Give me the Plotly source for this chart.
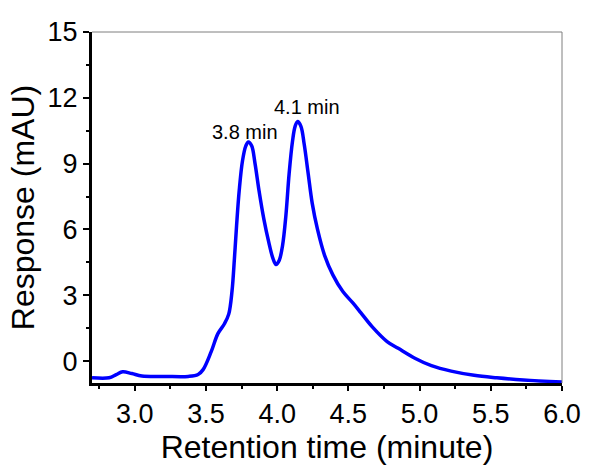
import plotly.graph_objects as go

# Chromatogram trace
retention_time = [2.70, 2.82, 2.87, 2.915, 2.98, 3.05, 3.215, 3.376, 3.445, 3.48, 3.537,
                  3.584, 3.63, 3.66, 3.683, 3.70, 3.715, 3.734, 3.757, 3.78, 3.798,
                  3.821, 3.845, 3.872, 3.907, 3.941, 3.971, 3.992, 4.015, 4.038, 4.061,
                  4.084, 4.108, 4.126, 4.144, 4.167, 4.19, 4.218, 4.246, 4.283, 4.333,
                  4.391, 4.46, 4.53, 4.587, 4.668, 4.772, 4.85, 4.967, 5.083, 5.222,
                  5.383, 5.542, 5.729, 6.0]
response = [-0.76, -0.76, -0.62, -0.49, -0.57, -0.68, -0.70, -0.70, -0.61, -0.39, 0.43,
            1.25, 1.70, 2.14, 3.18, 4.67, 6.16, 7.80, 9.14, 9.81, 9.99,
            9.81, 8.99, 7.80, 6.46, 5.42, 4.67, 4.40, 4.60, 5.27, 6.61,
            8.54, 10.03, 10.70, 10.92, 10.70, 9.88, 8.54, 7.20, 6.01, 4.82,
            3.93, 3.18, 2.66, 2.21, 1.56, 0.89, 0.58, 0.13, -0.21, -0.46,
            -0.65, -0.76, -0.86, -0.95]

peak_labels = ["3.8 min", "4.1 min"]
peak_label_x = [3.774, 4.207]
peak_label_y = [10.45, 11.56]

x_ticks = [3.0, 3.5, 4.0, 4.5, 5.0, 5.5, 6.0]
y_ticks = [0, 3, 6, 9, 12, 15]

FONT = "Arial, Liberation Sans, sans-serif"

fig = go.Figure()
fig.add_trace(go.Scatter(
    x=retention_time, y=response, mode="lines",
    line=dict(color="#0000ff", width=3.5, shape="spline", smoothing=1.0),
    showlegend=False, hoverinfo="skip"))

for t, xx, yy in zip(peak_labels, peak_label_x, peak_label_y):
    fig.add_annotation(x=xx, y=yy, text=t, showarrow=False,
                       xanchor="center", yanchor="middle",
                       font=dict(family=FONT, size=20, color="black"))

# thin grey frame on top and right
fig.add_shape(type="line", xref="paper", yref="paper", x0=0, x1=1, y0=1, y1=1,
              line=dict(color="#7f7f7f", width=1))
fig.add_shape(type="line", xref="paper", yref="paper", x0=1, x1=1, y0=0, y1=1,
              line=dict(color="#7f7f7f", width=1))

fig.update_layout(
    width=593, height=466,
    margin=dict(l=92, r=24, t=32, b=76),
    paper_bgcolor="white", plot_bgcolor="white",
    font=dict(family=FONT, color="black"),
    xaxis=dict(
        range=[2.7, 6.0], tickvals=x_ticks, ticktext=[f"{v:.1f}" for v in x_ticks],
        showgrid=False, zeroline=False,
        showline=True, linecolor="black", linewidth=3,
        ticks="outside", ticklen=5, tickwidth=2, tickcolor="black",
        minor=dict(dtick=0.25, tick0=0, ticks="outside", ticklen=3, tickwidth=2, tickcolor="black"),
        tickfont=dict(size=27, family=FONT, color="black"),
        title=dict(text="Retention time (minute)", font=dict(size=32, family=FONT, color="black"),
                   standoff=2),
    ),
    yaxis=dict(
        range=[-1, 15], tickvals=y_ticks,
        showgrid=False, zeroline=False,
        showline=True, linecolor="black", linewidth=3,
        ticks="outside", ticklen=6, tickwidth=2, tickcolor="black",
        minor=dict(dtick=1.5, tick0=0, ticks="outside", ticklen=3, tickwidth=2, tickcolor="black"),
        tickfont=dict(size=27, family=FONT, color="black"),
        title=dict(text="Response (mAU)", font=dict(size=32, family=FONT, color="black"),
                   standoff=4),
    ),
)

fig.write_html("out.html")
